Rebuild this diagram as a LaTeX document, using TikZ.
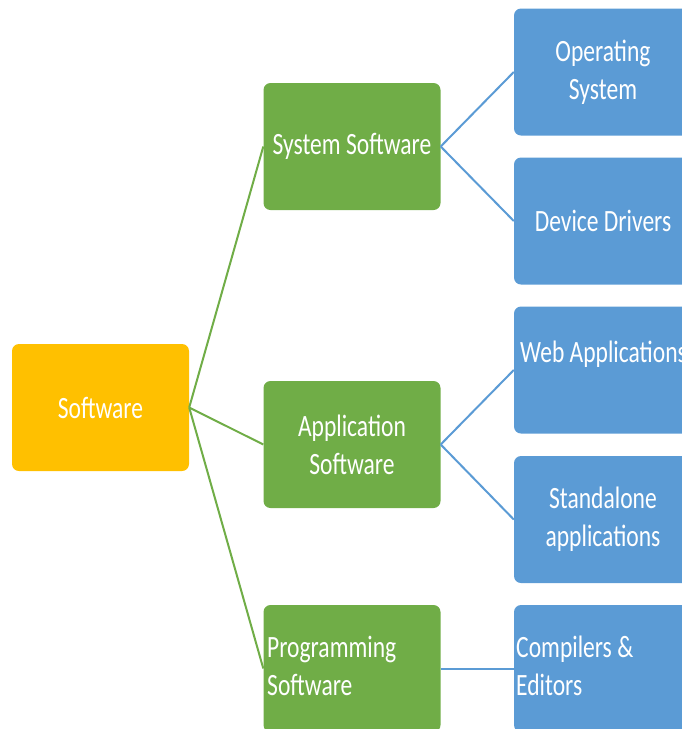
\documentclass[tikz,border=0pt]{standalone}
\usepackage{fontspec}
\setmainfont{Carlito}[FakeStretch=0.76]
\definecolor{orangebox}{HTML}{FFC000}
\definecolor{greenbox}{HTML}{70AD47}
\definecolor{bluebox}{HTML}{5B9BD5}
\begin{document}
\begin{tikzpicture}[x=1pt,y=-1pt,
  box/.style={rounded corners=7pt, minimum width=177pt, minimum height=127pt, inner sep=0pt,
    text=white, font=\fontsize{31}{38}\selectfont, align=center},
  obox/.style={box, fill=orangebox},
  gbox/.style={box, fill=greenbox},
  bbox/.style={box, fill=bluebox, minimum width=178pt},
  gline/.style={draw=greenbox, line width=2pt},
  bline/.style={draw=bluebox, line width=2pt},
  txt/.style={text=white, font=\fontsize{31}{38}\selectfont, inner sep=0pt}
]
\useasboundingbox (0,0) rectangle (681,729);
\node[obox] (soft) at (100.5,407.5) {Software};
\node[gbox] (sys) at (352,146.5) {System Software};
\node[gbox] (app) at (352,444.5) {Application\\Software};
\node[gbox] (prog) at (352,668.5) {};
\node[txt, anchor=base west] (progt) at (267,657) {Programming};
\node[txt, anchor=base west] (progt2) at (267,695) {Software};
\node[bbox] (os) at (603,72) {Operating\\System};
\node[bbox] (dd) at (603,221) {Device Drivers};
\node[bbox] (web) at (603,370) {};
\node[txt, anchor=base west] (webt) at (520,362) {Web Applications};
\node[bbox] (sa) at (603,519.5) {Standalone\\applications};
\node[bbox] (ce) at (603,668.5) {};
\node[txt, anchor=base west] (cet) at (516,657) {Compilers \&};
\node[txt, anchor=base west] (cet2) at (516,695) {Editors};
\draw[gline] (soft.east) -- (sys.west);
\draw[gline] (soft.east) -- (app.west);
\draw[gline] (soft.east) -- (prog.west);
\draw[bline] (sys.east) -- (os.west);
\draw[bline] (sys.east) -- (dd.west);
\draw[bline] (app.east) -- (web.west);
\draw[bline] (app.east) -- (sa.west);
\draw[bline] (prog.east) -- (ce.west);
\end{tikzpicture}
\end{document}
